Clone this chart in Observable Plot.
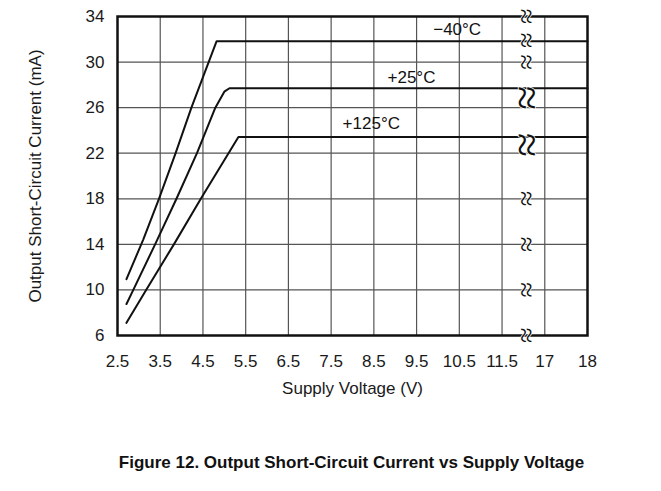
<!DOCTYPE html>
<html>
<head>
<meta charset="utf-8">
<script src="https://cdn.jsdelivr.net/npm/d3@7"></script>
<script src="https://cdn.jsdelivr.net/npm/@observablehq/plot@0.6"></script>
<style>
  body { margin: 0; background: #fff; font-family: "Liberation Sans", Arial, Helvetica, sans-serif; }
  #caption { padding-top: 33px; padding-left: 42px; line-height: 20px; text-align: center; font-weight: bold; font-size: 17px; color: #111; }
</style>
</head>
<body>
<div id="chart"></div>
<div id="caption">Figure 12. Output Short-Circuit Current vs Supply Voltage</div>
<script>
// Tick labels (supply voltage, V) — axis is broken between 11.5 and 17
const xTickLabels = ["2.5","3.5","4.5","5.5","6.5","7.5","8.5","9.5","10.5","11.5","17","18"];
const xTickValues = [2.5,3.5,4.5,5.5,6.5,7.5,8.5,9.5,10.5,11.5,17,18];
const yTickValues = [6,10,14,18,22,26,30,34];

// Series: -40°C
const volt40 = [2.71, 3.10, 3.47, 3.86, 4.23, 4.82, 18];
const cur40  = [10.94, 14.4, 18, 22, 26, 31.83, 31.83];
// Series: +25°C
const volt25 = [2.71, 2.87, 3.38, 3.88, 4.36, 4.79, 5.0, 5.12, 18];
const cur25  = [8.76, 10, 14, 18, 22, 26, 27.4, 27.7, 27.7];
// Series: +125°C
const volt125 = [2.71, 3.17, 3.82, 4.45, 5.33, 18];
const cur125  = [7.11, 10, 14, 18, 23.42, 23.42];

const seriesLabels = ["\u221240\u00B0C", "+25\u00B0C", "+125\u00B0C"];
const labelVolt = [10.45, 9.38, 8.44];
const labelCur  = [32.86, 28.64, 24.63];

// break marks (current levels where the axis-break squiggle is drawn)
const breakCur = [34, 31.9, 30, 18, 14, 10, 6];
const breakCurTall = [26.85, 22.71];

// broken axis: 2.5..11.5 -> 0..9, 17..18 -> 10..11
function pos(v) { return v <= 11.5 ? v - 2.5 : 10 + (v - 17); }
const breakPos = 9.57;

const rows = [];
[[volt40, cur40, seriesLabels[0]], [volt25, cur25, seriesLabels[1]], [volt125, cur125, seriesLabels[2]]]
  .forEach(([vs, cs, s]) => vs.forEach((v, i) => rows.push({x: pos(v), y: cs[i], s})));

const labels = seriesLabels.map((t, i) => ({x: pos(labelVolt[i]), y: labelCur[i], t}));
const xPositions = xTickValues.map(pos);

const chart = Plot.plot({
  width: 661,
  height: 420,
  marginLeft: 117,
  marginRight: 74,
  marginTop: 16,
  marginBottom: 85,
  style: {fontSize: "17px", fontFamily: "'Liberation Sans', Arial, Helvetica, sans-serif", color: "#1a1a1a", background: "#fff"},
  x: {domain: [0, 11]},
  y: {domain: [6, 34]},
  marks: [
    Plot.ruleX(xPositions.slice(1, -1), {stroke: "#555", strokeWidth: 1.2}),
    Plot.ruleY(yTickValues.slice(1, -1), {stroke: "#555", strokeWidth: 1.2}),
    Plot.line(rows, {x: "x", y: "y", z: "s", stroke: "#111", strokeWidth: 2, curve: "linear"}),
    Plot.frame({stroke: "#111", strokeWidth: 2.5}),
    Plot.text(breakCur, {x: () => breakPos, y: d => d, text: () => "\u2248", rotate: 90, fontFamily: "DejaVu Sans", fontWeight: 200, fontSize: 28, fill: "#111", stroke: "white", strokeWidth: 1.5}),
    Plot.text(breakCurTall, {x: () => breakPos, y: d => d, text: () => "\u2248", rotate: 90, fontFamily: "DejaVu Sans", fontWeight: 200, fontSize: 44, fill: "#111", stroke: "white", strokeWidth: 1.5}),
    Plot.text(labels, {x: "x", y: "y", text: "t", fontSize: 17, fill: "#111"}),
    Plot.axisX({ticks: xPositions, tickFormat: (d, i) => xTickLabels[i], tickSize: 0, tickPadding: 19, label: null, fontSize: 17}),
    Plot.axisY({ticks: yTickValues, tickSize: 0, tickPadding: 13, label: null, fontSize: 17}),
    Plot.text(["Supply Voltage (V)"], {frameAnchor: "bottom", dy: 58, fontSize: 17, fill: "#1a1a1a"}),
    Plot.text(["Output Short-Circuit Current (mA)"], {frameAnchor: "left", textAnchor: "middle", dx: -82, rotate: -90, fontSize: 17, fill: "#1a1a1a"})
  ]
});
document.getElementById("chart").appendChild(chart);
</script>
</body>
</html>
